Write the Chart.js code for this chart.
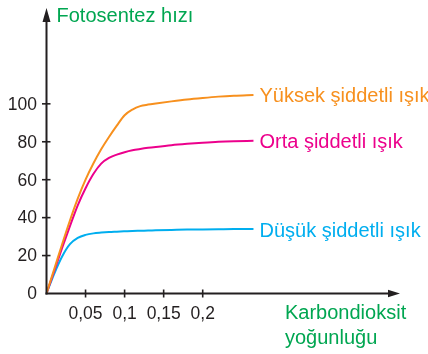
<!DOCTYPE html>
<html lang="tr">
<head>
<meta charset="utf-8">
<title>Fotosentez hızı</title>
<script src="https://cdn.jsdelivr.net/npm/chart.js@4"></script>
<style>
  html, body { margin: 0; padding: 0; background: #fff; }
  #wrap { width: 428px; height: 354px; position: relative; }
</style>
</head>
<body>
<div id="wrap"><canvas id="fotoChart"></canvas></div>
<script>
// CO2 concentration samples (x) and photosynthesis rate for each light level
const co2 = [0, 0.01, 0.02, 0.03, 0.04, 0.05, 0.06, 0.07, 0.08, 0.09, 0.1, 0.11, 0.12, 0.13, 0.14, 0.16, 0.18, 0.2, 0.22, 0.24, 0.265];
const yuksek = [0, 13, 26, 38.5, 50, 60, 68.5, 76, 82.5, 88.5, 94, 97, 98.8, 99.6, 100.2, 101.3, 102.3, 103.1, 103.8, 104.3, 104.7];
const orta   = [0, 12, 24, 35.5, 46.5, 55.5, 63, 68.5, 71.5, 73.2, 74.5, 75.5, 76.2, 76.8, 77.3, 78.2, 78.9, 79.5, 80, 80.3, 80.5];
const dusuk  = [0, 10.5, 19.5, 26, 29.3, 30.9, 31.7, 32.1, 32.4, 32.6, 32.8, 33, 33.1, 33.2, 33.3, 33.5, 33.7, 33.8, 33.9, 34, 34];

const seriesNames = ['Yüksek şiddetli ışık', 'Orta şiddetli ışık', 'Düşük şiddetli ışık'];
const seriesColors = ['#F7901E', '#EC008C', '#00AEEF'];

const yTicks = [0, 20, 40, 60, 80, 100];
const xTicks = [0.05, 0.1, 0.15, 0.2];
const xTickLabels = ['0,05', '0,1', '0,15', '0,2'];

const green = '#00A651';
const ink = '#231F20';
const fontFamily = '"Liberation Sans", Arial, Helvetica, sans-serif';

function toPoints(ys) {
  return co2.map((x, i) => ({ x: x, y: ys[i] }));
}

// axes with arrows, tick marks, tick labels, axis titles and curve labels
const axesPlugin = {
  id: 'axesPlugin',
  afterDatasetsDraw(chart) {
    const ctx = chart.ctx;
    const xs = chart.scales.x;
    const ys = chart.scales.y;
    const ox = xs.getPixelForValue(0);
    const oy = ys.getPixelForValue(0);
    const area = chart.chartArea;

    ctx.save();
    ctx.strokeStyle = ink;
    ctx.fillStyle = ink;
    ctx.lineWidth = 2;

    // y axis
    ctx.beginPath();
    ctx.moveTo(ox, oy + 1);
    ctx.lineTo(ox, area.top + 8);
    ctx.stroke();
    ctx.beginPath();
    ctx.moveTo(ox, area.top - 1);
    ctx.lineTo(ox - 4, area.top + 13);
    ctx.lineTo(ox + 4, area.top + 13);
    ctx.closePath();
    ctx.fill();

    // x axis
    ctx.beginPath();
    ctx.moveTo(ox - 1, oy);
    ctx.lineTo(area.right - 8, oy);
    ctx.stroke();
    ctx.beginPath();
    ctx.moveTo(area.right, oy);
    ctx.lineTo(area.right - 12, oy - 3.8);
    ctx.lineTo(area.right - 12, oy + 3.8);
    ctx.closePath();
    ctx.fill();

    // tick marks
    ctx.lineWidth = 1.6;
    yTicks.forEach(v => {
      if (v === 0) return;
      const py = ys.getPixelForValue(v);
      ctx.beginPath();
      ctx.moveTo(ox - 4.5, py);
      ctx.lineTo(ox + 4, py);
      ctx.stroke();
    });
    xTicks.forEach(v => {
      const px = xs.getPixelForValue(v);
      ctx.beginPath();
      ctx.moveTo(px, oy - 4);
      ctx.lineTo(px, oy + 4);
      ctx.stroke();
    });

    // tick labels
    ctx.font = '17.5px ' + fontFamily;
    ctx.fillStyle = ink;
    ctx.textAlign = 'right';
    ctx.textBaseline = 'middle';
    yTicks.forEach(v => {
      ctx.fillText(String(v), ox - 9.5, ys.getPixelForValue(v) + 1);
    });
    ctx.textAlign = 'center';
    ctx.textBaseline = 'alphabetic';
    xTicks.forEach((v, i) => {
      ctx.fillText(xTickLabels[i], xs.getPixelForValue(v), oy + 25.5);
    });

    // axis titles
    ctx.font = '20px ' + fontFamily;
    ctx.fillStyle = green;
    ctx.textAlign = 'left';
    ctx.fillText('Fotosentez hızı', ox + 10, area.top + 13);
    ctx.fillText('Karbondioksit', 285, oy + 25.5);
    ctx.fillText('yoğunluğu', 285, oy + 50.5);

    // curve labels at the end of each line
    chart.data.datasets.forEach((ds, i) => {
      const last = ds.data[ds.data.length - 1];
      ctx.fillStyle = seriesColors[i];
      ctx.fillText(seriesNames[i], xs.getPixelForValue(last.x) + 6, ys.getPixelForValue(last.y) + 7.5);
    });

    ctx.restore();
  }
};

new Chart(document.getElementById('fotoChart'), {
  type: 'line',
  data: {
    datasets: [yuksek, orta, dusuk].map((ys, i) => ({
      label: seriesNames[i],
      data: toPoints(ys),
      borderColor: seriesColors[i],
      backgroundColor: seriesColors[i],
      borderWidth: 2,
      pointRadius: 0,
      cubicInterpolationMode: 'monotone',
      fill: false
    }))
  },
  options: {
    responsive: true,
    maintainAspectRatio: false,
    animation: false,
    layout: { padding: { left: 46.5, right: 28, top: 9, bottom: 60.5 } },
    plugins: {
      legend: { display: false },
      tooltip: { enabled: false }
    },
    scales: {
      x: { type: 'linear', min: 0, max: 0.4526, display: false },
      y: { type: 'linear', min: 0, max: 150, display: false }
    }
  },
  plugins: [axesPlugin]
});
</script>
</body>
</html>
